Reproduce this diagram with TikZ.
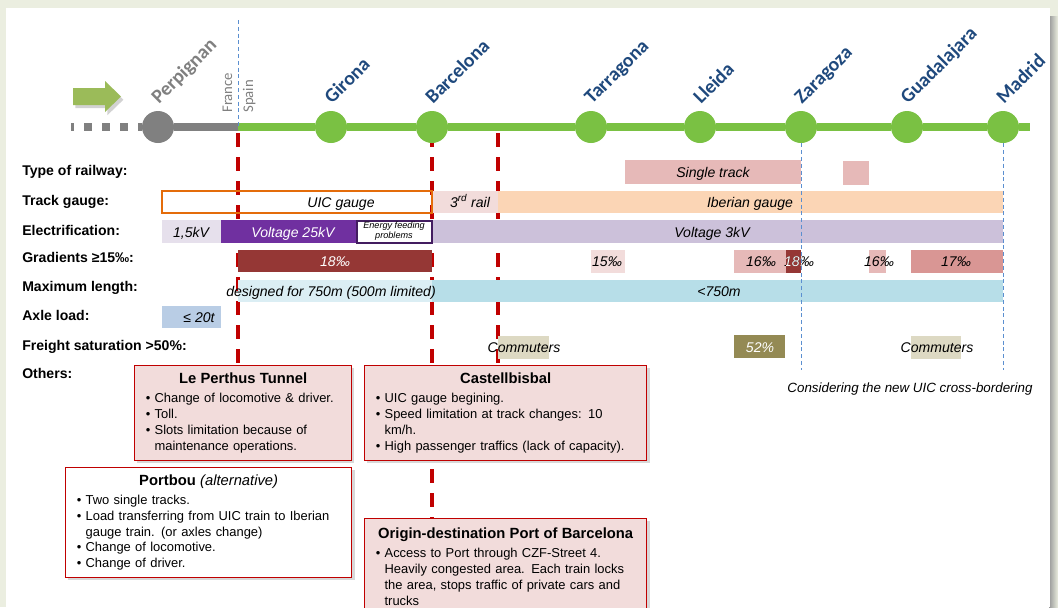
\documentclass[tikz,border=0pt]{standalone}
\usepackage{fontspec}
\setmainfont{Liberation Sans}
\newfontfamily\cityfont{Carlito}
\usetikzlibrary{calc,shadows}

\definecolor{framebg}{HTML}{EBEEE0}
\definecolor{railgreen}{HTML}{7AC143}
\definecolor{railgray}{HTML}{808080}
\definecolor{arrowgreen}{HTML}{9BBB59}
\definecolor{cityblue}{HTML}{1F497D}
\definecolor{cutred}{HTML}{C00000}
\definecolor{borderblue}{HTML}{5B8FD0}
\definecolor{gaugeorange}{HTML}{E46C0A}
\definecolor{palepink}{HTML}{F2DCDB}
\definecolor{midpink}{HTML}{E6B9B8}
\definecolor{rosepink}{HTML}{D99694}
\definecolor{peach}{HTML}{FBD5B5}
\definecolor{palelilac}{HTML}{E6E0EC}
\definecolor{lilac}{HTML}{CCC1DA}
\definecolor{voltpurple}{HTML}{7030A0}
\definecolor{gradred}{HTML}{953735}
\definecolor{paleblue}{HTML}{DBEEF4}
\definecolor{lengthblue}{HTML}{B7DEE8}
\definecolor{axleblue}{HTML}{B9CDE5}
\definecolor{commuterbeige}{HTML}{DDD9C3}
\definecolor{satolive}{HTML}{948A54}
\definecolor{boxpink}{HTML}{F2DCDB}

\pgfdeclarelayer{backdrop}
\pgfdeclarelayer{cuts}
\pgfsetlayers{backdrop,cuts,main}

\newcommand{\bitem}[1]{\par\noindent\makebox[0.22cm][l]{\textbullet}#1}
\newcommand{\bcont}[1]{\par\noindent\hspace*{0.22cm}#1}

\tikzset{
	% ------- every something
	every node/.style={
		font=\fontsize{10}{12}\selectfont,
	},
	% ------- custom
	track/.style={
		line width=0.2cm,
		railgreen,
	},
	station/.style={
		circle, fill=railgreen, minimum size=0.8cm, inner sep=0pt,
	},
	city/.style={
		font=\cityfont\bfseries\fontsize{14}{17}\selectfont,
		text=cityblue, rotate=45, anchor=base west, inner sep=0pt,
	},
	country/.style={
		font=\cityfont\fontsize{10.5}{12}\selectfont,
		text=railgray, rotate=90, anchor=base west, inner sep=0pt,
	},
	rowlabel/.style={
		font=\bfseries\fontsize{10}{12}\selectfont,
		anchor=west, inner sep=0pt, text height=7.2pt, text depth=0pt,
	},
	bartext/.style={
		font=\itshape\fontsize{10}{12}\selectfont,
		inner sep=0pt, text height=7.2pt, text depth=0pt,
	},
	cut/.style={
		line width=0.1cm,
		cutred,
		dash pattern=on 0.35cm off 0.25cm,
	},
	bordr/.style={
		line width=0.6pt,
		borderblue,
		dash pattern=on 0.1cm off 0.07cm,
	},
	infobox/.style={
		draw=cutred, line width=0.9pt, anchor=north west, align=left,
		inner xsep=0.28cm, inner ysep=0.1cm,
		font=\fontsize{9.2}{11.3}\selectfont,
		drop shadow={shadow xshift=0.07cm, shadow yshift=-0.07cm, opacity=0.3},
	},
}

\begin{document}
\begin{tikzpicture}[x=0.025cm, y=-0.025cm]

	\useasboundingbox (0,0) rectangle (1058,607);

% backdrop %{{{1

	\begin{pgfonlayer}{backdrop}
		\fill[framebg] (0,0) rectangle (1058,607);
		\shade[left color=black!40, right color=framebg] (1049,16) rectangle (1058,607);
		\fill[white] (6,8) rectangle (1050,607);
	\end{pgfonlayer}

% coordinates %{{{1

	\coordinate (dashstart) at (71,127);
	\coordinate (border) at (238,127);
	\coordinate (bordertop) at (238,20);
	\coordinate (trackend) at (1030,127);

	\coordinate (cutA) at (238,133);
	\coordinate (cutB) at (432,133);
	\coordinate (cutC) at (498,133);

	\coordinate (zarfoot) at (801,370);
	\coordinate (madfoot) at (1003,370);

% direction arrow %{{{1

	\fill[arrowgreen, drop shadow={shadow xshift=0.06cm, shadow yshift=-0.08cm, opacity=0.35}]
		(73,88) -- (105,88) -- (105,81) -- (121,96.5) -- (105,112) -- (105,105) -- (73,105) -- cycle;

% stations %{{{1

	\node[station, fill=railgray] (perpignan) at (158,127) {};
	\foreach \n/\x in {girona/331, barcelona/432, tarragona/591, lleida/700,
		zaragoza/801, guadalajara/907, madrid/1003}
		\node[station] (\n) at (\x,127) {};

	\draw[track, railgray, dash pattern=on 0.2cm off 0.25cm, dash phase=0.125cm] (dashstart) -- (perpignan);
	\draw[track, railgray] (perpignan) -- (border);
	\draw[track] (border) -- (girona) -- (barcelona) -- (tarragona) -- (lleida)
		-- (zaragoza) -- (guadalajara) -- (madrid) -- (trackend);

	\draw[bordr] (bordertop) -- (border);

% station labels %{{{1

	\node[city, text=railgray] (perpignan-lbl) at ($(perpignan)+(1,-22)$) {Perpignan};
	\foreach \n/\t in {girona/Girona, barcelona/Barcelona, tarragona/Tarragona,
		lleida/Lleida, zaragoza/Zaragoza, guadalajara/Guadalajara, madrid/Madrid}
		\node[city] (\n-lbl) at ($(\n)+(1,-22)$) {\t};

	\node[country] (france) at (232,113) {France};
	\node[country] (spain) at (253,113) {Spain};

% row labels %{{{1

	\foreach \y/\t [count=\i] in {170/Type of railway:, 200/Track gauge:, 230/Electrification:,
		257.5/Gradients ≥15‰:, 286/Maximum length:, 315.5/Axle load:,
		345/Freight saturation >50\%:, 373/Others:}
		\node[rowlabel] (row\i) at (22,\y) {\t};

% type of railway %{{{1

	\fill[midpink] (625,160) rectangle (801,184);
	\fill[midpink] (843,161) rectangle (869,185);
	\node[bartext] (singletxt) at (713,172) {Single track};

% track gauge %{{{1

	\fill[palepink] (432,191) rectangle (498,213);
	\fill[peach] (498,191) rectangle (1003,213);
	\draw[gaugeorange, line width=0.05cm] (162,191) rectangle (432,213);
	\node[bartext] (uictxt) at (341,202) {UIC gauge};
	\node[bartext] (railtxt) at (470,202) {3\textsuperscript{rd} rail};
	\node[bartext] (ibertxt) at (750,202) {Iberian gauge};

% electrification %{{{1

	\fill[palelilac] (162,220) rectangle (221,243);
	\fill[voltpurple] (221,220) rectangle (357,243);
	\fill[lilac] (432,220) rectangle (1003,243);
	\draw[fill=white, draw=voltpurple!60!black, line width=0.8pt] (357,221) rectangle (432,243);
	\node[bartext] (lowvtxt) at (191,232) {1,5kV};
	\node[bartext, white] (highvtxt) at (293,232) {Voltage 25kV};
	\node[font=\itshape\fontsize{6.5}{7}\selectfont, align=center, inner sep=0pt] (energytxt)
		at (394,231.5) {Energy feeding\\problems};
	\node[bartext] (midvtxt) at (712,232) {Voltage 3kV};

% gradients %{{{1

	\fill[gradred] (238,250) rectangle (432,272);
	\fill[palepink] (591,250) rectangle (625,273);
	\fill[midpink] (734,250) rectangle (786,273);
	\fill[gradred] (786,250) rectangle (801,273);
	\fill[midpink] (869,250) rectangle (886,273);
	\fill[rosepink] (911,250) rectangle (1003,273);

	\node[bartext, white] (grada) at (335,261) {18‰};
	\node[bartext] (gradb) at (607,261) {15‰};
	\node[bartext] (gradc) at (761,261) {16‰};
	\node[bartext] (gradd) at (799,261) {18‰};
	\begin{scope}
		\clip (786,250) rectangle (801,273);
		\node[bartext, white] (graddw) at (799,261) {18‰};
	\end{scope}
	\node[bartext] (grade) at (879,261) {16‰};
	\node[bartext] (gradf) at (956,261) {17‰};

% maximum length %{{{1

	\fill[paleblue] (238,280) rectangle (432,302);
	\fill[lengthblue] (432,280) rectangle (1003,302);
	\node[bartext] (lenatxt) at (331,291) {designed for 750m (500m limited)};
	\node[bartext] (lenbtxt) at (719,291) {<750m};

% axle load %{{{1

	\fill[axleblue] (162,306) rectangle (221,328);
	\node[bartext] (axletxt) at (199,317) {≤ 20t};

% freight saturation %{{{1

	\fill[commuterbeige] (498,336) rectangle (549,359);
	\fill[satolive] (734,335) rectangle (785,358);
	\fill[commuterbeige] (911,336) rectangle (961,359);
	\node[bartext] (comatxt) at (524,347) {Commuters};
	\node[bartext, white] (sattxt) at (760,347) {52\%};
	\node[bartext] (combtxt) at (937,347) {Commuters};

	\draw[bordr] (zaragoza) -- (zarfoot);
	\draw[bordr] (madrid) -- (madfoot);

	\node[bartext, font=\itshape\fontsize{9.5}{11}\selectfont] (uicnote) at (910,387)
		{Considering the new UIC cross-bordering};

% others, boxes %{{{1

	\node[infobox, fill=boxpink, text width=4.865cm, minimum height=2.375cm] (tunnel) at (134,365) {%
		{\centering\fontsize{10.5}{13}\selectfont\bfseries Le Perthus Tunnel\par}\vspace{2pt}%
		\bitem{Change of locomotive \& driver.}
		\bitem{Toll.}
		\bitem{Slots limitation because of}
		\bcont{maintenance operations.}};

	\node[infobox, fill=white, text width=6.59cm, minimum height=2.75cm] (portbou) at (65,467) {%
		{\centering\fontsize{10.5}{13}\selectfont{\bfseries Portbou} \textit{(alternative)}\par}\vspace{2pt}%
		\bitem{Two single tracks.}
		\bitem{Load transferring from UIC train to Iberian}
		\bcont{gauge train. (or axles change)}
		\bitem{Change of locomotive.}
		\bitem{Change of driver.}};

	\node[infobox, fill=boxpink, text width=6.49cm, minimum height=2.375cm] (castell) at (364,365) {%
		{\centering\fontsize{10.5}{13}\selectfont\bfseries Castellbisbal\par}\vspace{2pt}%
		\bitem{UIC gauge begining.}
		\bitem{Speed limitation at track changes: 10}
		\bcont{km/h.}
		\bitem{High passenger traffics (lack of capacity).}};

	\node[infobox, fill=boxpink, text width=6.49cm, minimum height=2.4cm] (origin) at (364,518) {%
		{\centering\fontsize{10.5}{13}\selectfont\bfseries Origin-destination Port of Barcelona\par}\vspace{2pt}%
		\bitem{Access to Port through CZF-Street 4.}
		\bcont{Heavily congested area. Each train locks}
		\bcont{the area, stops traffic of private cars and}
		\bcont{trucks}};

% crossing cuts %{{{1

	\begin{pgfonlayer}{cuts}
		\draw[cut] (cutA) -- (tunnel.north -| cutA);
		\draw[cut] (cutB) -- (origin.north -| cutB);
		\draw[cut] (cutC) -- (castell.north -| cutC);
	\end{pgfonlayer}

% closing %{{{1

\end{tikzpicture}
\end{document}
